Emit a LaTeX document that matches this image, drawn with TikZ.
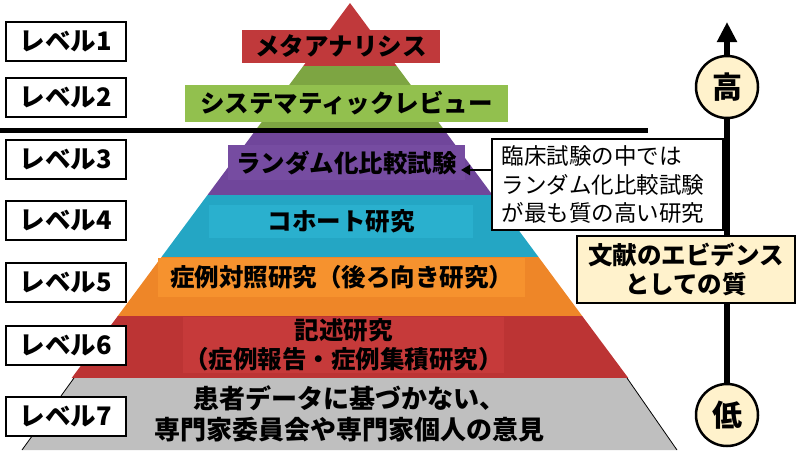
\documentclass[tikz,border=0pt]{standalone}
\usepackage{fontspec}
\setmainfont{Noto Sans CJK JP}
\usetikzlibrary{arrows.meta}
\definecolor{metared}{RGB}{192,57,59}
\definecolor{srband}{RGB}{125,165,66}
\definecolor{srgreen}{RGB}{146,192,78}
\definecolor{rctband}{RGB}{112,70,155}
\definecolor{rctpurple}{RGB}{118,76,161}
\definecolor{cohband}{RGB}{36,166,196}
\definecolor{cohcyan}{RGB}{42,176,206}
\definecolor{ccband}{RGB}{238,134,40}
\definecolor{ccorange}{RGB}{246,146,46}
\definecolor{csband}{RGB}{188,52,52}
\definecolor{csred}{RGB}{198,58,58}
\definecolor{opgray}{RGB}{191,191,191}
\definecolor{cream}{RGB}{255,242,204}
\tikzset{every node/.style={font=\bfseries\fontsize{24.5}{29}\selectfont, inner sep=0pt},
  lvlbox/.style={draw, line width=1.6pt, fill=white, minimum width=120, minimum height=39,
    font=\bfseries\fontsize{25.5}{29}\selectfont},
  tag/.style={minimum width=#1, align=center},
  quality/.style={circle, draw, line width=2.5pt, fill=cream, minimum size=62,
    font=\bfseries\fontsize{30}{30}\selectfont}}

\begin{document}
\begin{tikzpicture}[x=1pt,y=-1pt]
       \useasboundingbox (0,0) rectangle (800,450);
       \begin{scope}
        % pyramid
        \fill[metared] (350,3) -- (396.7,66) -- (303.3,66) -- cycle;
        \fill[srband]  (303.3,66) -- (396.7,66) -- (445,131) -- (255,131) -- cycle;
        \fill[rctband] (255,131) -- (445,131) -- (492.5,195) -- (207.5,195) -- cycle;
        \fill[cohband] (207.5,195) -- (492.5,195) -- (538.5,257) -- (161.5,257) -- cycle;
        \fill[ccband]  (161.5,257) -- (538.5,257) -- (582.2,316) -- (117.8,316) -- cycle;
        \fill[csband]  (117.8,316) -- (582.2,316) -- (628.3,378) -- (71.7,378) -- cycle;
        \fill[opgray]  (74,378) -- (627,378) -- (677,450) -- (22,450) -- cycle;
        \draw[black,line width=0.8pt] (74,378) -- (22,450);
        \draw[black,line width=0.8pt] (627,378) -- (677,450);
        \coordinate (cutL) at (0,130);
        \coordinate (cutR) at (648,130);
        \draw[black,line width=5pt] (cutL) -- (cutR);
        % labels
        \node[tag=198, fill=metared, minimum height=33] (meta) at (341,46.5) {メタアナリシス};
        \node[tag=323, fill=srgreen, minimum height=37] (sr) at (346.5,103.5) {システマティックレビュー};
        \node[tag=237, fill=rctpurple, minimum height=35] (rct) at (346.5,162.5) {ランダム化比較試験};
        \node[tag=264, fill=cohcyan, minimum height=33] (coh) at (341,221) {コホート研究};
        \node[tag=367, fill=ccorange, minimum height=39] (cc) at (341.5,277.5) {症例対照研究（後ろ向き研究）};
        \node[tag=321, fill=csred, minimum height=56] (cs) at (343.5,345) {記述研究\\（症例報告・症例集積研究）};
        \node[tag=400, font=\bfseries\fontsize{26}{31}\selectfont] (op) at (349,413.5)
          {患者データに基づかない、\\専門家委員会や専門家個人の意見};
        % levels
        \node[lvlbox] (l1) at (66,41.5)  {レベル1};
        \node[lvlbox] (l2) at (66,97.5)  {レベル2};
        \node[lvlbox] (l3) at (66,159.5) {レベル3};
        \node[lvlbox] (l4) at (66,220.5) {レベル4};
        \node[lvlbox] (l5) at (66,282.5) {レベル5};
        \node[lvlbox] (l6) at (66,345.5) {レベル6};
        \node[lvlbox] (l7) at (66,416.5) {レベル7};
        % quality axis
        \node[quality] (hi) at (727,87)  {高};
        \node[quality] (lo) at (727,415) {低};
        \node[draw, line width=1.8pt, fill=cream, minimum width=218, minimum height=67, align=center]
          (qual) at (686,269.5) {文献のエビデンス\\としての質};
        \coordinate (tip) at (727,22);
        \draw[black,line width=6pt] (lo.north) -- (lo |- qual.south);
        \draw[black,line width=6pt] (hi |- qual.north) -- (hi.south);
        \draw[black,line width=6pt,-{Triangle[width=19pt,length=20pt]}] (hi.north) -- (tip);
        % note
        \node[draw, line width=1.8pt, fill=white, text width=212, inner xsep=9.5pt, minimum height=91,
          align=left, font=\fontsize{22.5}{28.5}\selectfont] (call) at (607.5,184.5)
          {臨床試験の中では\\ランダム化比較試験\\が最も質の高い研究};
        \coordinate (ptr) at (461,170);
        \draw[black,line width=2.2pt,-{Triangle[width=10pt,length=9pt]}] (call.west |- ptr) -- (ptr);
       \end{scope}
      \end{tikzpicture}
\end{document}
